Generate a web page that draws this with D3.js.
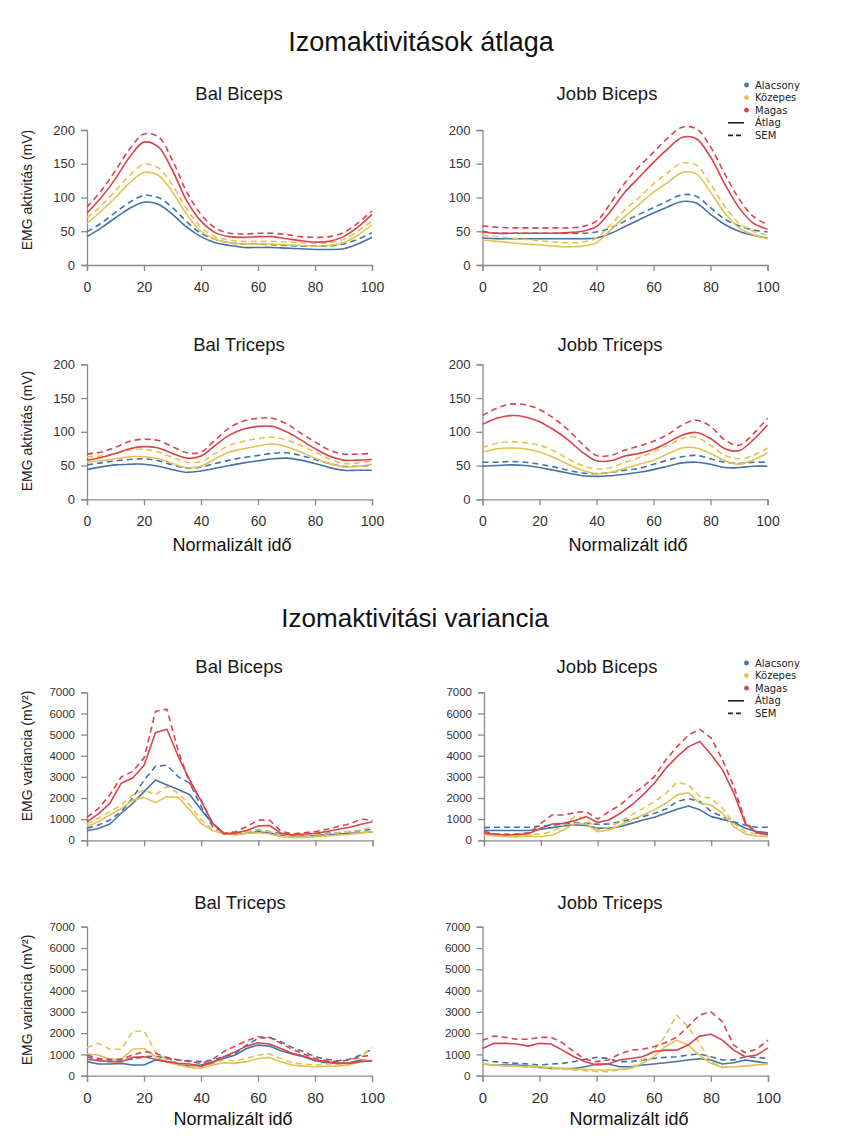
<!DOCTYPE html>
<html>
<head>
<meta charset="utf-8">
<script src="https://cdn.jsdelivr.net/npm/d3@7"></script>
<style>
  body { margin: 0; background: #fff; }
  svg { display: block; }
</style>
</head>
<body>
<svg id="chart" width="865" height="1142"></svg>
<script>
// ---------- groups ----------
const groups = ["Alacsony", "Közepes", "Magas"];
const groupColors = ["#4473a8", "#e3c254", "#d8444c"];
const styleNames = ["Átlag", "SEM"];

// ---------- sample positions (normalised time, %) ----------
const timeAct = [0, 5, 10, 15, 20, 25, 30, 35, 40, 45, 50, 55, 60, 65, 70, 75, 80, 85, 90, 95, 100];
const timeVar = [0, 4, 8, 12, 16, 20, 24, 28, 32, 36, 40, 44, 48, 52, 56, 60, 64, 68, 72, 76, 80, 84, 88, 92, 96, 100];

// ---------- tick labels ----------
const xTicks = [0, 20, 40, 60, 80, 100];
const actTicks = [0, 50, 100, 150, 200];
const varTicks = [0, 1000, 2000, 3000, 4000, 5000, 6000, 7000];

// ---------- muscle activity (mV): Bal Biceps ----------
const balBicepsLowMean  = [42, 55, 70, 84, 93, 90, 75, 56, 42, 33, 29, 26, 26, 26, 25, 24, 23, 23, 24, 31, 41];
const balBicepsLowSem   = [49, 62, 78, 93, 103, 100, 85, 64, 47, 38, 33, 31, 31, 30, 29, 28, 28, 28, 31, 38, 48];
const balBicepsMidMean  = [62, 80, 100, 122, 137, 133, 108, 75, 50, 38, 33, 31, 31, 31, 30, 29, 28, 29, 33, 44, 60];
const balBicepsMidSem   = [70, 88, 110, 133, 149, 144, 118, 83, 56, 42, 37, 35, 35, 35, 34, 33, 32, 33, 38, 50, 65];
const balBicepsHighMean = [77, 100, 128, 160, 182, 175, 140, 95, 65, 48, 42, 41, 42, 42, 39, 36, 34, 35, 42, 56, 75];
const balBicepsHighSem  = [86, 110, 140, 172, 194, 190, 155, 108, 75, 55, 47, 46, 47, 47, 45, 42, 41, 42, 48, 62, 80];

// ---------- muscle activity (mV): Jobb Biceps ----------
const jobbBicepsLowMean  = [40, 39, 39, 39, 39, 39, 39, 39, 40, 47, 57, 67, 77, 86, 94, 92, 75, 60, 50, 44, 40];
const jobbBicepsLowSem   = [50, 47, 47, 47, 47, 47, 47, 47, 49, 55, 65, 75, 85, 95, 104, 102, 85, 68, 58, 52, 49];
const jobbBicepsMidMean  = [37, 35, 33, 31, 30, 28, 27, 28, 33, 52, 72, 90, 108, 122, 137, 135, 108, 77, 55, 45, 39];
const jobbBicepsMidSem   = [44, 42, 40, 38, 36, 34, 33, 34, 40, 60, 82, 100, 120, 137, 151, 148, 120, 87, 62, 50, 44];
const jobbBicepsHighMean = [49, 47, 47, 47, 47, 47, 48, 50, 57, 80, 108, 130, 152, 172, 189, 187, 160, 120, 85, 62, 53];
const jobbBicepsHighSem  = [58, 56, 55, 55, 55, 55, 55, 57, 65, 92, 122, 146, 167, 188, 204, 202, 175, 135, 98, 72, 60];

// ---------- muscle activity (mV): Bal Triceps ----------
const balTricepsLowMean  = [44, 48, 51, 52, 52, 49, 44, 40, 42, 46, 50, 54, 57, 60, 61, 58, 53, 47, 43, 43, 43];
const balTricepsLowSem   = [51, 54, 57, 59, 60, 57, 51, 46, 48, 53, 58, 62, 65, 68, 69, 65, 59, 53, 49, 49, 50];
const balTricepsMidMean  = [55, 57, 60, 63, 63, 60, 53, 47, 49, 60, 70, 75, 79, 82, 78, 70, 61, 53, 48, 49, 52];
const balTricepsMidSem   = [63, 64, 68, 73, 74, 70, 62, 55, 56, 68, 80, 86, 90, 92, 88, 80, 70, 60, 53, 54, 57];
const balTricepsHighMean = [58, 62, 68, 75, 78, 76, 68, 61, 64, 80, 95, 104, 108, 108, 100, 88, 75, 64, 58, 58, 59];
const balTricepsHighSem  = [67, 70, 77, 86, 89, 87, 78, 69, 70, 88, 106, 116, 120, 120, 112, 98, 85, 73, 67, 67, 68];

// ---------- muscle activity (mV): Jobb Triceps ----------
const jobbTricepsLowMean  = [49, 50, 51, 50, 47, 43, 39, 35, 34, 35, 37, 40, 44, 49, 54, 55, 52, 47, 47, 49, 49];
const jobbTricepsLowSem   = [55, 55, 56, 55, 52, 48, 43, 39, 38, 40, 43, 46, 52, 58, 63, 65, 60, 55, 53, 55, 55];
const jobbTricepsMidMean  = [70, 75, 76, 75, 70, 62, 52, 43, 38, 40, 46, 52, 58, 67, 76, 76, 68, 57, 52, 58, 69];
const jobbTricepsMidSem   = [77, 83, 85, 84, 80, 72, 60, 50, 45, 47, 55, 62, 70, 80, 90, 92, 80, 65, 60, 65, 76];
const jobbTricepsHighMean = [111, 120, 124, 122, 115, 103, 88, 70, 57, 57, 64, 68, 74, 84, 95, 99, 90, 75, 72, 88, 110];
const jobbTricepsHighSem  = [124, 135, 141, 140, 133, 120, 103, 82, 65, 65, 73, 79, 86, 96, 110, 117, 108, 88, 80, 97, 120];

// ---------- variance (mV²): Bal Biceps ----------
const balBicepsLowVar      = [450, 560, 770, 1280, 1750, 2300, 2850, 2620, 2400, 2150, 1450, 800, 330, 280, 330, 400, 340, 250, 200, 200, 230, 260, 300, 330, 360, 400];
const balBicepsLowVarSem   = [570, 720, 960, 1360, 2000, 2850, 3500, 3550, 3000, 2700, 1600, 650, 330, 360, 410, 500, 420, 300, 250, 240, 300, 330, 360, 410, 460, 520];
const balBicepsMidVar      = [650, 880, 1200, 1500, 1900, 2030, 1780, 2070, 2030, 1440, 800, 460, 300, 250, 330, 360, 300, 170, 140, 140, 170, 200, 250, 280, 360, 410];
const balBicepsMidVarSem   = [770, 1040, 1360, 1670, 2150, 2380, 2150, 2540, 2220, 1670, 960, 520, 360, 330, 410, 520, 410, 250, 200, 240, 250, 300, 360, 410, 490, 640];
const balBicepsHighVar     = [880, 1250, 1750, 2700, 2950, 3550, 5100, 5250, 3950, 2850, 1850, 800, 300, 330, 480, 680, 700, 330, 250, 300, 330, 420, 520, 620, 760, 880];
const balBicepsHighVarSem  = [1090, 1500, 2150, 3000, 3250, 3900, 6100, 6200, 4200, 2700, 1900, 800, 330, 400, 650, 960, 950, 420, 300, 360, 410, 520, 650, 780, 1000, 950];

// ---------- variance (mV²): Jobb Biceps ----------
const jobbBicepsLowVar     = [460, 460, 460, 460, 460, 520, 600, 680, 740, 700, 570, 570, 650, 800, 960, 1090, 1280, 1470, 1620, 1440, 1120, 990, 840, 570, 410, 360];
const jobbBicepsLowVarSem  = [600, 620, 620, 620, 620, 680, 720, 770, 840, 800, 760, 770, 880, 990, 1120, 1280, 1470, 1830, 1970, 1830, 1360, 1120, 880, 710, 620, 620];
const jobbBicepsMidVar     = [250, 200, 170, 170, 200, 170, 250, 490, 800, 770, 410, 490, 720, 960, 1200, 1440, 1750, 2150, 2250, 1750, 1670, 1280, 650, 300, 200, 170];
const jobbBicepsMidVarSem  = [330, 280, 280, 280, 280, 300, 410, 720, 1120, 1040, 490, 620, 880, 1200, 1510, 1830, 2220, 2750, 2620, 2070, 1990, 1510, 800, 410, 300, 250];
const jobbBicepsHighVar    = [330, 280, 250, 270, 330, 570, 770, 800, 930, 1120, 840, 960, 1280, 1670, 2150, 2700, 3400, 3960, 4430, 4670, 4050, 3330, 2220, 800, 360, 260];
const jobbBicepsHighVarSem = [420, 300, 280, 300, 360, 800, 1200, 1200, 1310, 1360, 1000, 1360, 1670, 2150, 2540, 3010, 3800, 4430, 4980, 5250, 4830, 3800, 2540, 880, 360, 330];

// ---------- variance (mV²): Bal Triceps ----------
const balTricepsLowVar     = [660, 550, 550, 580, 500, 500, 740, 660, 550, 450, 500, 660, 810, 970, 1280, 1440, 1390, 1170, 1020, 890, 700, 610, 580, 610, 740, 690];
const balTricepsLowVarSem  = [890, 740, 740, 740, 770, 890, 920, 810, 740, 700, 660, 740, 890, 1050, 1440, 1750, 1800, 1600, 1330, 1130, 890, 770, 700, 770, 970, 1240];
const balTricepsMidVar     = [1020, 970, 770, 770, 1240, 1280, 890, 660, 500, 390, 340, 500, 610, 580, 660, 810, 860, 660, 500, 450, 420, 450, 450, 500, 660, 740];
const balTricepsMidVarSem  = [1330, 1520, 1240, 1240, 2070, 2110, 1130, 740, 610, 450, 420, 580, 740, 700, 810, 970, 1020, 810, 610, 550, 500, 550, 550, 610, 890, 1330];
const balTricepsHighVar    = [770, 700, 660, 660, 860, 890, 770, 660, 580, 550, 450, 610, 890, 1130, 1390, 1550, 1490, 1280, 1050, 920, 740, 660, 580, 580, 660, 700];
const balTricepsHighVarSem = [970, 810, 770, 770, 970, 1130, 1050, 860, 740, 660, 580, 770, 1130, 1390, 1640, 1830, 1800, 1520, 1240, 1020, 810, 700, 660, 740, 890, 970];

// ---------- variance (mV²): Jobb Triceps ----------
const jobbTricepsLowVar     = [550, 500, 500, 500, 450, 390, 340, 340, 340, 420, 550, 550, 420, 420, 500, 550, 610, 670, 740, 800, 740, 550, 610, 740, 660, 580];
const jobbTricepsLowVarSem  = [740, 660, 610, 580, 550, 500, 550, 580, 660, 770, 860, 810, 660, 660, 740, 810, 860, 890, 970, 1020, 890, 740, 740, 890, 860, 810];
const jobbTricepsMidVar     = [550, 500, 450, 450, 420, 420, 390, 340, 300, 300, 270, 270, 300, 340, 580, 890, 1360, 1670, 1440, 970, 580, 390, 420, 450, 500, 550];
const jobbTricepsMidVarSem  = [580, 520, 450, 450, 390, 390, 340, 300, 270, 230, 200, 190, 270, 340, 740, 1200, 1860, 2850, 2300, 1520, 660, 420, 420, 450, 500, 550];
const jobbTricepsHighVar    = [1280, 1520, 1520, 1490, 1390, 1520, 1490, 1200, 890, 660, 500, 550, 740, 810, 890, 1130, 1200, 1200, 1440, 1860, 1950, 1670, 1200, 890, 970, 1310];
const jobbTricepsHighVarSem = [1670, 1860, 1800, 1710, 1710, 1800, 1800, 1550, 1130, 770, 660, 740, 1020, 1200, 1240, 1360, 1550, 1800, 2300, 2850, 3000, 2540, 1440, 1080, 1240, 1670];

// ---------- panel layout ----------
const FONT = "'Liberation Sans', Arial, Helvetica, sans-serif";
const actLabel = "EMG aktivitás (mV)";
const varLabel = "EMG variancia (mV²)";
const xTitle = "Normalizált idő";
const smooth = d3.curveCatmullRom.alpha(0.5);

const panels = [
  { title: "Bal Biceps", tx: 239, ty: 100, x0: 87, x1: 372, y0: 130, y1: 265, time: timeAct, ticks: actTicks, yMax: 200,
    yLabel: actLabel, yLabelY: 190, xLabels: true, curve: smooth, yFont: 13, xFont: 14,
    series: [[balBicepsLowMean, balBicepsLowSem], [balBicepsMidMean, balBicepsMidSem], [balBicepsHighMean, balBicepsHighSem]] },
  { title: "Jobb Biceps", tx: 607, ty: 100, x0: 482.5, x1: 767.5, y0: 130, y1: 265, time: timeAct, ticks: actTicks, yMax: 200,
    xLabels: true, curve: smooth, yFont: 13, xFont: 14, legendY: 85,
    series: [[jobbBicepsLowMean, jobbBicepsLowSem], [jobbBicepsMidMean, jobbBicepsMidSem], [jobbBicepsHighMean, jobbBicepsHighSem]] },
  { title: "Bal Triceps", tx: 239, ty: 351, x0: 87, x1: 372, y0: 364.3, y1: 499.3, time: timeAct, ticks: actTicks, yMax: 200,
    yLabel: actLabel, yLabelY: 431, xLabels: true, xTitleX: 232, xTitleY: 551, curve: smooth, yFont: 13, xFont: 14,
    series: [[balTricepsLowMean, balTricepsLowSem], [balTricepsMidMean, balTricepsMidSem], [balTricepsHighMean, balTricepsHighSem]] },
  { title: "Jobb Triceps", tx: 610, ty: 351, x0: 482.5, x1: 767.5, y0: 364.3, y1: 499.3, time: timeAct, ticks: actTicks, yMax: 200,
    xLabels: true, xTitleX: 628, xTitleY: 551, curve: smooth, yFont: 13, xFont: 14,
    series: [[jobbTricepsLowMean, jobbTricepsLowSem], [jobbTricepsMidMean, jobbTricepsMidSem], [jobbTricepsHighMean, jobbTricepsHighSem]] },
  { title: "Bal Biceps", tx: 239, ty: 673, x0: 87, x1: 372.5, y0: 692.3, y1: 840.3, time: timeVar, ticks: varTicks, yMax: 7000,
    yLabel: varLabel, yLabelY: 756, xLabels: false, curve: d3.curveLinear, yFont: 11.5, xFont: 15,
    series: [[balBicepsLowVar, balBicepsLowVarSem], [balBicepsMidVar, balBicepsMidVarSem], [balBicepsHighVar, balBicepsHighVarSem]] },
  { title: "Jobb Biceps", tx: 607, ty: 673, x0: 484, x1: 768, y0: 692.3, y1: 840.3, time: timeVar, ticks: varTicks, yMax: 7000,
    xLabels: false, curve: d3.curveLinear, yFont: 11.5, xFont: 15, legendY: 663,
    series: [[jobbBicepsLowVar, jobbBicepsLowVarSem], [jobbBicepsMidVar, jobbBicepsMidVarSem], [jobbBicepsHighVar, jobbBicepsHighVarSem]] },
  { title: "Bal Triceps", tx: 240, ty: 909, x0: 87, x1: 372, y0: 926.7, y1: 1075.7, time: timeVar, ticks: varTicks, yMax: 7000,
    yLabel: varLabel, yLabelY: 1000, xLabels: true, xTitleX: 233, xTitleY: 1125, curve: d3.curveLinear, yFont: 11.5, xFont: 15,
    series: [[balTricepsLowVar, balTricepsLowVarSem], [balTricepsMidVar, balTricepsMidVarSem], [balTricepsHighVar, balTricepsHighVarSem]] },
  { title: "Jobb Triceps", tx: 610, ty: 909, x0: 482.5, x1: 768, y0: 926.7, y1: 1075.7, time: timeVar, ticks: varTicks, yMax: 7000,
    xLabels: true, xTitleX: 629, xTitleY: 1125, curve: d3.curveLinear, yFont: 11.5, xFont: 15,
    series: [[jobbTricepsLowVar, jobbTricepsLowVarSem], [jobbTricepsMidVar, jobbTricepsMidVarSem], [jobbTricepsHighVar, jobbTricepsHighVarSem]] }
];

const svg = d3.select("#chart");
svg.append("rect").attr("width", 865).attr("height", 1142).attr("fill", "#fff");

// section headings
svg.append("text").attr("x", 421).attr("y", 51).attr("text-anchor", "middle")
  .attr("font-family", FONT).attr("font-size", 27).attr("fill", "#111").text("Izomaktivitások átlaga");
svg.append("text").attr("x", 415).attr("y", 627).attr("text-anchor", "middle")
  .attr("font-family", FONT).attr("font-size", 26).attr("fill", "#111").text("Izomaktivitási variancia");

const AXIS_COLOR = "#8a8a8a";
const TEXT_COLOR = "#333";

panels.forEach(p => {
  const g = svg.append("g");
  const x = d3.scaleLinear().domain([0, 100]).range([p.x0, p.x1]);
  const y = d3.scaleLinear().domain([0, p.yMax]).range([p.y1, p.y0]);

  // title
  g.append("text").attr("x", p.tx).attr("y", p.ty).attr("text-anchor", "middle")
    .attr("font-family", FONT).attr("font-size", 18.5).attr("fill", "#1a1a1a").text(p.title);

  // axes
  const yAxis = d3.axisLeft(y).tickValues(p.ticks).tickFormat(d3.format("d")).tickSizeOuter(0).tickSize(6).tickPadding(6);
  const xAxis = d3.axisBottom(x).tickValues(xTicks).tickSizeOuter(0).tickSize(6).tickPadding(11)
    .tickFormat(p.xLabels ? d3.format("d") : () => "");

  const gy = g.append("g").attr("transform", `translate(${p.x0},0)`).call(yAxis);
  const gx = g.append("g").attr("transform", `translate(0,${p.y1})`).call(xAxis);
  [gy, gx].forEach(a => {
    a.select(".domain").attr("stroke", AXIS_COLOR).attr("stroke-width", 1.3);
    a.selectAll(".tick line").attr("stroke", AXIS_COLOR).attr("stroke-width", 1.3);
    a.selectAll(".tick text").attr("fill", TEXT_COLOR).attr("font-family", FONT);
  });
  gy.selectAll(".tick text").attr("font-size", p.yFont);
  gx.selectAll(".tick text").attr("font-size", p.xFont);

  // axis titles
  if (p.yLabel) {
    g.append("text").attr("transform", `translate(32,${p.yLabelY}) rotate(-90)`)
      .attr("text-anchor", "middle").attr("font-family", FONT).attr("font-size", 14)
      .attr("fill", "#222").text(p.yLabel);
  }
  if (p.xTitleX) {
    g.append("text").attr("x", p.xTitleX).attr("y", p.xTitleY).attr("text-anchor", "middle")
      .attr("font-family", FONT).attr("font-size", 18).attr("fill", "#111").text(xTitle);
  }

  // curves: mean solid, SEM dashed
  const line = d3.line().x((d, i) => x(p.time[i])).y(d => y(d)).curve(p.curve);
  p.series.forEach((pair, gi) => {
    pair.forEach((vals, k) => {
      g.append("path").datum(vals).attr("d", line)
        .attr("fill", "none").attr("stroke", groupColors[gi]).attr("stroke-width", 1.6)
        .attr("stroke-linejoin", "round")
        .attr("stroke-dasharray", k === 1 ? "6,4" : null);
    });
  });

  // legend
  if (p.legendY !== undefined) {
    const lg = g.append("g").attr("font-family", "'DejaVu Sans', Verdana, sans-serif").attr("font-size", 10).attr("fill", "#222");
    const step = 12.6;
    groups.forEach((name, i) => {
      const yy = p.legendY + i * step;
      lg.append("circle").attr("cx", 746.5).attr("cy", yy).attr("r", 2.4).attr("fill", groupColors[i]);
      lg.append("text").attr("x", 755).attr("y", yy).attr("dy", "0.35em").text(name);
    });
    styleNames.forEach((name, i) => {
      const yy = p.legendY + (i + 3) * step;
      lg.append("line").attr("x1", 728).attr("x2", 744).attr("y1", yy).attr("y2", yy)
        .attr("stroke", "#222").attr("stroke-width", 1.6).attr("stroke-dasharray", i === 1 ? "5,3" : null);
      lg.append("text").attr("x", 755).attr("y", yy).attr("dy", "0.35em").text(name);
    });
  }
});
</script>
</body>
</html>
